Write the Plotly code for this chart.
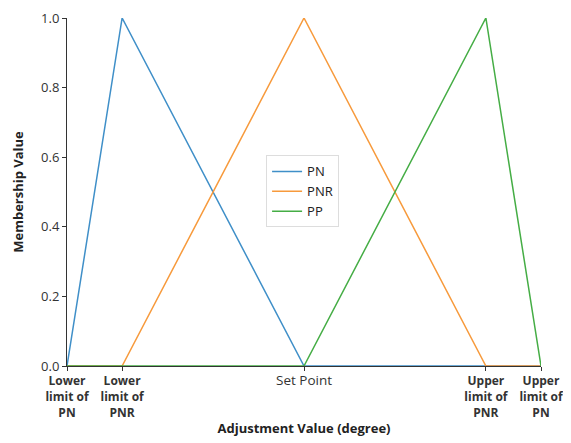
import plotly.graph_objects as go

# Tick positions on the adjustment axis
tick_vals = [-4.3, -3.3, 0.0, 3.3, 4.3]
tick_labels = ["<b>Lower<br>limit of<br>PN</b>", "<b>Lower<br>limit of<br>PNR</b>",
               "<span style='font-size:13.5px'>Set Point</span>",
               "<b>Upper<br>limit of<br>PNR</b>", "<b>Upper<br>limit of<br>PN</b>"]

pn_x = [-4.3, -3.3, 0.0, 4.3]
pn_y = [0, 1, 0, 0]
pnr_x = [-4.3, -3.3, 0.0, 3.3, 4.3]
pnr_y = [0, 0, 1, 0, 0]
pp_x = [-4.3, 0.0, 3.3, 4.3]
pp_y = [0, 0, 1, 0]

colors = {"PN": "#3f8fc8", "PNR": "#f79a3c", "PP": "#45ad45"}

fig = go.Figure()
for name, xs, ys in [("PN", pn_x, pn_y), ("PNR", pnr_x, pnr_y), ("PP", pp_x, pp_y)]:
    fig.add_trace(go.Scatter(x=xs, y=ys, mode="lines", name=name,
                             line=dict(color=colors[name], width=1.5)))

font_family = "Open Sans, Noto Sans, sans-serif"
fig.update_layout(
    width=563, height=435,
    margin=dict(l=59, r=30, t=10, b=77),
    plot_bgcolor="white", paper_bgcolor="white",
    font=dict(family=font_family, size=12, color="#333333"),
    showlegend=True,
    legend=dict(x=0.42, y=0.605, xanchor="left", yanchor="top",
                bordercolor="#dddddd", borderwidth=1, bgcolor="white",
                font=dict(size=13, color="#222222"), tracegroupgap=0),
)
fig.update_xaxes(
    range=[-4.3, 4.3], tickvals=tick_vals, ticktext=tick_labels, automargin=False,
    showline=True, linecolor="#333333", linewidth=1, ticks="outside", ticklen=4,
    tickcolor="#333333", showgrid=False, zeroline=False,
    tickfont=dict(size=12, color="#333333"),
    title=dict(text="<b>Adjustment Value (degree)</b>", font=dict(size=13, color="#222222"), standoff=4),
)
fig.update_yaxes(
    range=[0, 1.0], tickvals=[0, 0.2, 0.4, 0.6, 0.8, 1.0],
    ticktext=["0.0", "0.2", "0.4", "0.6", "0.8", "1.0"], automargin=False,
    showline=True, linecolor="#333333", linewidth=1, ticks="outside", ticklen=4,
    tickcolor="#333333", showgrid=False, zeroline=False,
    tickfont=dict(size=13, color="#333333"),
    title=dict(text="<b>Membership Value</b>", font=dict(size=13, color="#222222"), standoff=14),
)
fig.write_html("out.html")
